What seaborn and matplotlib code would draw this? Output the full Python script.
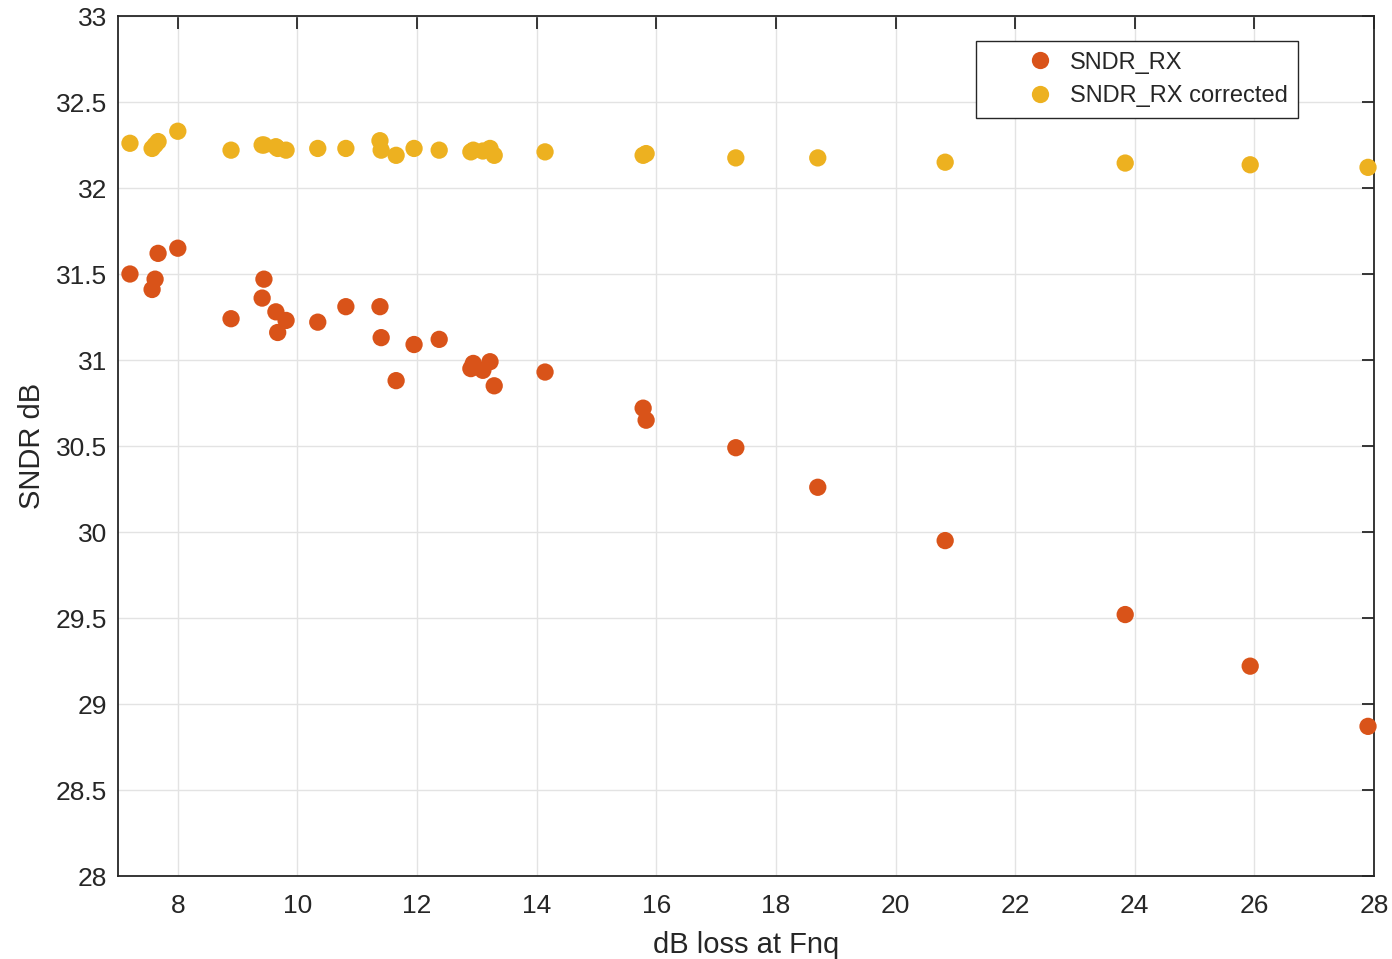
import numpy as np
import pandas as pd
import matplotlib
matplotlib.use("Agg")
import matplotlib.pyplot as plt
import seaborn as sns

loss_db = [7.20, 7.57, 7.62, 7.67, 8.00, 8.89, 9.41, 9.44, 9.64, 9.67, 9.81,
           10.34, 10.81, 11.38, 11.40, 11.65, 11.95, 12.37, 12.90, 12.94, 13.10,
           13.22, 13.29, 14.14, 15.78, 15.83, 17.33, 18.70, 20.83, 23.84, 25.93, 27.90]
sndr_rx = [31.50, 31.41, 31.47, 31.62, 31.65, 31.24, 31.36, 31.47, 31.28, 31.16, 31.23,
           31.22, 31.31, 31.31, 31.13, 30.88, 31.09, 31.12, 30.95, 30.98, 30.94,
           30.99, 30.85, 30.93, 30.72, 30.65, 30.49, 30.26, 29.95, 29.52, 29.22, 28.87]
sndr_rx_corr = [32.26, 32.23, 32.25, 32.27, 32.33, 32.22, 32.25, 32.25, 32.24, 32.23, 32.22,
                32.23, 32.23, 32.275, 32.22, 32.19, 32.23, 32.22, 32.21, 32.22, 32.215,
                32.23, 32.19, 32.21, 32.19, 32.20, 32.175, 32.175, 32.15, 32.145, 32.135, 32.12]
series_names = ["SNDR_RX", "SNDR_RX corrected"]
colors = ["#D95319", "#EDB120"]
y_tick_labels = ["28", "28.5", "29", "29.5", "30", "30.5", "31", "31.5", "32", "32.5", "33"]

df = pd.DataFrame({
    "x": loss_db * 2,
    "y": sndr_rx + sndr_rx_corr,
    "series": [series_names[0]] * len(loss_db) + [series_names[1]] * len(loss_db),
})

sns.set_theme(style="white")
plt.rcParams["font.family"] = ["Liberation Sans", "DejaVu Sans"]

fig = plt.figure(figsize=(13.92, 9.59), dpi=100)
ax = fig.add_axes([118/1392, 1 - 876/959, (1374-118)/1392, (876-16)/959])

sns.scatterplot(data=df, x="x", y="y", hue="series", palette=colors,
                s=155, linewidth=0, ax=ax, zorder=3, clip_on=False)

ax.set_xlim(7, 28)
ax.set_ylim(28, 33)
ax.set_xticks(np.arange(8, 29, 2))
ax.set_yticks(np.arange(28, 33.01, 0.5))
ax.set_yticklabels(y_tick_labels)
ax.grid(True, color="#e3e3e3", linewidth=1)
ax.set_axisbelow(True)
for sp in ax.spines.values():
    sp.set_color("#262626")
    sp.set_linewidth(1.3)
    sp.set_visible(True)
ax.tick_params(direction="in", length=9, width=1.3, colors="#262626",
               labelsize=19, top=True, right=True)
ax.tick_params(axis="x", pad=13)
ax.tick_params(axis="y", pad=8)
ax.tick_params(axis="both", labelcolor="#262626")
ax.set_xlabel("dB loss at Fnq", fontsize=21, color="#262626", labelpad=9)
ax.set_ylabel("SNDR dB", fontsize=21, color="#262626", labelpad=7)

leg = ax.legend(loc="upper right", bbox_to_anchor=((1298-118)/1256, (876-41)/860),
                frameon=True, fancybox=False, fontsize=17, markerscale=1.0,
                borderpad=0.45, handlelength=4.5, handletextpad=-1.0,
                labelspacing=0.5, borderaxespad=0)
leg.get_frame().set_edgecolor("#262626")
leg.get_frame().set_linewidth(1.0)
leg.get_frame().set_alpha(1)

fig.savefig("out.png", dpi=100)
